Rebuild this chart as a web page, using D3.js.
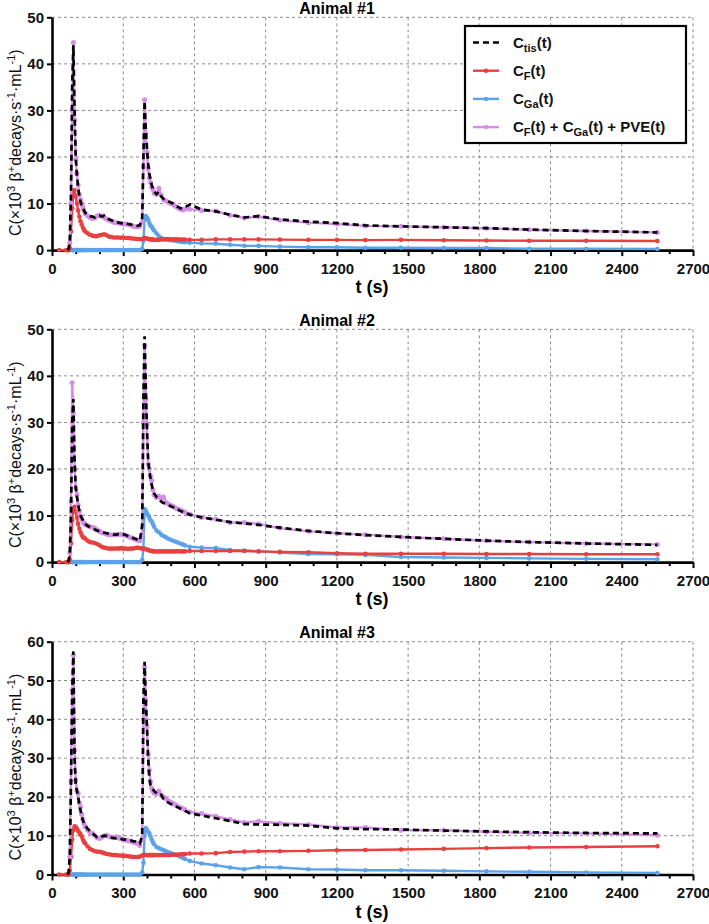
<!DOCTYPE html>
<html><head><meta charset="utf-8">
<script src="https://cdn.jsdelivr.net/npm/d3@7"></script>
<style>
body{margin:0;background:#fff}
svg{display:block}
text{font-family:"Liberation Sans",Arial,Helvetica,sans-serif}
</style>
</head><body>
<svg id="chart" width="709" height="924"></svg>
<script>
// ---------------- DATA ----------------
const times = [30,60,65,70,75,80,85,90,95,100,
  105,110,115,120,125,130,135,140,
  150,160,170,180,190,200,210,220,230,240,250,260,270,280,290,300,310,320,330,340,350,360,370,380,
  385,390,395,400,405,410,415,420,425,430,
  440,450,460,470,480,490,500,510,520,530,540,550,560,
  580,630,690,750,810,870,960,1080,1200,1320,1470,1650,1830,2010,2250,2550];

const titles = ["Animal #1","Animal #2","Animal #3"];
const yMaxes = [50,50,60];
const xTickLabels = [0,300,600,900,1200,1500,1800,2100,2400,2700];
const xMinorTicks = [100,200,400,500,700,800,1000,1100,1300,1400,1600,1700,1900,2000,2200,2300,2500,2600];

// Animal #1
const a1Tis = [null,null,0,0.3,2,12,35,44,30,20,
  16,13.5,11.5,10.5,9.5,9,8.5,8,
  7.6,7.3,7.2,7.0,7.3,7.4,7.2,7.4,7.0,6.6,6.4,6.2,6.0,5.9,5.8,5.7,5.8,5.6,5.5,5.4,5.3,5.2,5.3,7,
  20,32,26,22,18.5,16.5,15,14,13.2,12.6,
  12,12.5,11.5,11,10.8,10.5,10.2,10,9.6,9.3,9.0,8.9,9.2,
  9.8,8.7,8.3,7.6,7.0,7.3,6.6,6.1,5.8,5.3,5.1,4.9,4.7,4.4,4.1,3.8];
const a1Fit = [null,null,null,null,1.5,10,30,44.6,28,19.5,
  16.5,14,12,10.8,10,9.2,8.5,7.8,
  7.3,7.0,6.8,6.9,7.3,7.5,7.3,7.0,6.7,6.4,6.2,6.0,5.9,5.8,5.7,5.6,5.6,5.5,5.4,5.2,5.0,5.0,5.1,6,
  18,32.3,25,21,17.5,15.5,14.5,13.5,13.0,12.2,
  12.0,13.3,11.8,10.8,10.6,10.3,10.0,9.8,9.4,9.1,8.8,8.6,8.8,
  8.8,8.5,8.4,7.5,6.9,7.2,6.4,5.9,5.6,5.2,5.1,4.9,4.7,4.35,4.1,3.8];
const a1F = [0,0,0,0,0.4,4,9,12.5,12.9,11.5,
  10,8.5,7.2,6.2,5.5,4.8,4.3,4.0,
  3.6,3.3,3.1,3.0,3.0,3.2,3.3,3.4,3.2,2.9,2.8,2.7,2.7,2.7,2.65,2.7,2.6,2.6,2.55,2.5,2.45,2.4,2.4,2.4,
  2.5,2.6,2.6,2.5,2.4,2.35,2.3,2.3,2.25,2.2,
  2.2,2.2,2.3,2.3,2.35,2.35,2.3,2.3,2.3,2.3,2.25,2.25,2.25,
  2.2,2.2,2.3,2.3,2.3,2.3,2.25,2.2,2.2,2.15,2.2,2.1,2.05,2.0,2.0,1.95];
const a1Ga = [null,null,null,null,null,null,0,0,0,0,
  0,0,0,0,0,0,0,0,
  0,0,0,0,0,0,0,0,0,0,0,0,0,0,0,0,0,0,0,0,0,0,0,0.3,
  2,6.5,7.3,7.0,6.5,5.8,5.3,5.0,4.6,4.2,
  3.6,3.0,2.6,2.4,2.3,2.2,2.1,2.1,2.0,1.9,1.8,1.75,1.7,
  1.6,1.45,1.35,1.15,0.95,0.9,0.75,0.6,0.6,0.5,0.5,0.45,0.45,0.3,0.3,0.25];

// Animal #2
const a2Tis = [null,null,0,0.3,2,10,30,35,22,16,
  14,12.5,11,10,9.5,9,8.5,8.2,
  7.8,7.5,7.2,7.0,6.8,6.6,6.4,6.3,6.2,6.1,6.0,5.9,5.9,6.0,6.1,6.0,5.8,5.6,5.4,5.2,5.0,4.8,4.6,8,
  35,48.5,38,28,22,19.5,18,16.5,15.5,14.8,
  14.0,13.5,13.0,12.7,12.5,12.3,12.0,11.8,11.5,11.3,11.0,10.8,10.6,
  10.2,9.6,9.1,8.6,8.3,8.0,7.4,6.7,6.2,5.8,5.4,5.0,4.6,4.3,4.0,3.7];
const a2Fit = [null,null,null,null,2,13,38.5,32,20,15.9,
  14.5,12.3,11,10,9.3,8.8,8.4,8.0,
  7.8,7.6,7.5,7.3,6.9,6.6,6.3,6.2,6.0,5.9,5.8,5.9,5.9,6.0,6.0,5.9,5.7,5.5,5.3,5.1,4.9,4.7,4.6,6,
  30,46.6,35,29.5,21,20,18.5,17.5,15.5,14.4,
  13.8,14.2,13.7,14.0,12.8,12.5,12.2,12.0,11.6,11.4,11.2,10.9,10.7,
  10.3,9.6,9.2,8.5,8.5,8.2,7.3,6.6,6.2,5.9,5.4,5.0,4.6,4.3,4.0,3.8];
const a2F = [0,0,0,0,0.5,4,9,11.5,11.9,10.8,
  9.5,8.2,7.2,6.4,5.8,5.4,5.2,5.0,
  4.6,4.3,4.2,4.1,3.9,3.6,3.3,3.1,3.0,2.9,2.9,2.9,2.9,2.9,3.0,2.9,2.9,2.85,2.9,2.9,3.0,3.1,3.0,2.9,
  2.9,2.8,2.8,2.7,2.6,2.5,2.45,2.4,2.35,2.3,
  2.3,2.3,2.3,2.3,2.3,2.3,2.3,2.3,2.3,2.35,2.3,2.3,2.3,
  2.4,2.4,2.4,2.4,2.4,2.3,2.2,2.1,1.9,1.8,1.8,1.8,1.75,1.75,1.7,1.7];
const a2Ga = [null,null,null,null,null,null,0,0,0,0,
  0,0,0,0,0,0,0,0,
  0,0,0,0,0,0,0,0,0,0,0,0,0,0,0,0,0,0,0,0,0,0,0,0.5,
  3,11.4,11,10.5,10,9.5,9,8.7,8.2,7.6,
  6.8,6.4,5.9,5.6,5.3,5.0,4.8,4.6,4.4,4.2,4.0,3.8,3.6,
  3.3,3.1,3.0,2.6,2.5,2.3,2.06,1.75,1.7,1.55,1.1,1.0,0.9,0.8,0.7,0.6];

// Animal #3
const a3Tis = [null,null,0,0.5,5,24,47,57.5,30,23,
  21.5,20,18,16.5,15,14,13.2,12.6,
  11.8,11.2,10.6,10.1,9.6,9.5,9.8,10.0,9.9,9.6,9.5,9.4,9.3,9.4,9.2,9.0,9.0,8.9,8.8,8.6,8.5,8.3,8.0,10,
  45,54.8,45,38,30,25,23,22.5,22,21.5,
  21,20.5,20.5,19.5,19,18.5,18.2,18,17.6,17.3,17.0,16.7,16.4,
  15.8,15.2,14.5,13.8,13.0,12.9,12.8,12.6,11.9,11.7,11.6,11.3,11.1,10.9,10.7,10.6];
const a3Fit = [null,null,null,null,4.5,24,47.5,56.5,32,24.3,
  21.5,20.9,18.5,17.4,15.5,14.2,13.1,12.3,
  11.5,10.8,10.6,10.0,9.5,9.3,9.6,10.0,10.1,9.8,9.6,9.5,9.7,9.4,9.2,9.0,8.85,8.7,8.6,8.4,8.2,8.0,7.5,9,
  40,53.5,45,38.1,31,26.9,24,22.2,21.5,21.0,
  20.9,21.5,20.5,20.0,19.5,19.0,18.7,18.3,18.0,17.6,17.3,17.0,16.7,
  16.1,15.7,15.0,14.2,13.4,13.7,13.2,12.9,12.1,12.1,11.4,11.4,11.0,10.7,10.6,10.1];
const a3F = [0,0,0,0,1,4.5,9,11.5,12.4,12.2,
  11.8,11.2,10.8,10.4,9.8,9.0,8.4,8.0,
  7.2,6.6,6.3,6.0,5.9,5.85,5.7,5.5,5.3,5.2,5.1,5.0,5.0,4.9,4.9,4.8,4.8,4.7,4.6,4.55,4.5,4.5,4.6,4.9,
  5.0,5.1,5.0,5.0,5.0,5.0,5.0,5.0,5.0,5.0,
  5.0,5.0,5.0,5.0,5.0,5.0,5.05,5.1,5.1,5.15,5.2,5.2,5.25,
  5.4,5.4,5.5,5.8,5.9,6.0,6.0,6.1,6.25,6.3,6.45,6.6,6.8,6.95,7.1,7.3];
const a3Ga = [null,null,null,null,null,null,0,0,0,0,
  0,0,0,0,0,0,0,0,
  0,0,0,0,0,0,0,0,0,0,0,0,0,0,0,0,0,0,0,0,0,0,0,0.5,
  3,10,12.0,11.5,11,10.6,9.8,9.0,8.3,7.8,
  7.1,6.8,6.5,6.27,6.0,5.7,5.5,5.3,5.1,4.9,4.6,4.3,4.0,
  3.5,2.84,2.4,1.8,1.37,1.9,1.8,1.37,1.3,1.1,1.1,0.95,0.8,0.7,0.5,0.4];

const animals = [
  {tis:a1Tis, fit:a1Fit, F:a1F, Ga:a1Ga},
  {tis:a2Tis, fit:a2Fit, F:a2F, Ga:a2Ga},
  {tis:a3Tis, fit:a3Fit, F:a3F, Ga:a3Ga}
];

// ---------------- STYLE / LAYOUT ----------------
const COL = {F:"#e8403f", Ga:"#5ba2ea", fit:"#d68ce9", tis:"#000"};
const plotLeft = 52, plotRight = 693, plotH = 232.8;
const panelTops = [17.3, 329.3, 641.7];

const svg = d3.select("#chart");
const x = d3.scaleLinear().domain([0,2700]).range([plotLeft, plotRight]);

animals.forEach((an, i)=>{
  const top = panelTops[i];
  const bottom = top + plotH;
  const y = d3.scaleLinear().domain([0, yMaxes[i]]).range([bottom, top]);
  const yTicks = d3.range(0, yMaxes[i]+1, 10);
  const g = svg.append("g");

  // grid
  g.append("g").selectAll("line").data(xTickLabels.filter(d=>d>0)).join("line")
    .attr("x1", d=>x(d)).attr("x2", d=>x(d)).attr("y1", top).attr("y2", bottom)
    .attr("stroke","#8a8a8a").attr("stroke-width",1).attr("stroke-dasharray","3,3");
  g.append("g").selectAll("line").data(yTicks.filter(d=>d>0)).join("line")
    .attr("x1", plotLeft).attr("x2", plotRight).attr("y1", d=>y(d)).attr("y2", d=>y(d))
    .attr("stroke","#8a8a8a").attr("stroke-width",1).attr("stroke-dasharray","3,3");

  // axes
  const xa = g.append("g").attr("transform",`translate(0,${bottom})`)
    .call(d3.axisBottom(x).tickValues(xTickLabels).tickFormat(d3.format("d"))
      .tickSize(6).tickSizeOuter(0).tickPadding(7));
  g.append("g").attr("transform",`translate(0,${bottom})`)
    .call(d3.axisBottom(x).tickValues(xMinorTicks).tickSize(4).tickSizeOuter(0).tickFormat(""))
    .call(s=>s.select(".domain").remove())
    .selectAll("line").attr("stroke-width",2);
  const ya = g.append("g").attr("transform",`translate(${plotLeft},0)`)
    .call(d3.axisLeft(y).tickValues(yTicks).tickSize(5).tickSizeOuter(0).tickPadding(3));
  [xa, ya].forEach(a=>{
    a.select(".domain").attr("stroke-width",2.6);
    a.selectAll(".tick line").attr("stroke-width",2);
    a.selectAll(".tick text").attr("font-size",15).attr("font-weight","bold")
      .attr("font-family",'"Liberation Sans",Arial,sans-serif').attr("fill","#111");
  });

  const pts = arr => times.map((t,k)=>[t, arr[k]]);
  const line = d3.line().defined(d=>d[1]!=null).x(d=>x(d[0])).y(d=>y(d[1]));

  function drawSeries(arr, color, r){
    const data = pts(arr);
    g.append("path").datum(data).attr("d", line).attr("fill","none")
      .attr("stroke", color).attr("stroke-width", 2.4).attr("stroke-linejoin","round");
    g.append("g").selectAll("circle").data(data.filter(d=>d[1]!=null)).join("circle")
      .attr("cx", d=>x(d[0])).attr("cy", d=>y(d[1])).attr("r", r).attr("fill", color);
  }
  drawSeries(an.Ga, COL.Ga, 2.3);
  drawSeries(an.F, COL.F, 2.3);
  drawSeries(an.fit, COL.fit, 2.5);
  g.append("path").datum(pts(an.tis)).attr("d", line).attr("fill","none")
    .attr("stroke","#000").attr("stroke-width",2.7).attr("stroke-dasharray","6,4");

  // title
  g.append("text").attr("x", 337).attr("y", top-3.8).attr("text-anchor","middle")
    .attr("font-size",16).attr("font-weight","bold").text(titles[i]);
  // x label
  g.append("text").attr("x", 372).attr("y", bottom+43).attr("text-anchor","middle")
    .attr("font-size",18).attr("font-weight","bold").text("t (s)");
  // y label
  const yl = g.append("text").attr("transform",`translate(21,${(top+bottom)/2+9}) rotate(-90)`)
    .attr("text-anchor","middle").attr("font-size",16).attr("fill","#111");
  yl.append("tspan").text("C(×10");
  yl.append("tspan").text("3").attr("font-size",11).attr("dy",-6);
  yl.append("tspan").text(" β").attr("dy",6);
  yl.append("tspan").text("+").attr("font-size",11).attr("dy",-6);
  yl.append("tspan").text("decays·s").attr("dy",6);
  yl.append("tspan").text("-1").attr("font-size",11).attr("dy",-6);
  yl.append("tspan").text("·mL").attr("dy",6);
  yl.append("tspan").text("-1").attr("font-size",11).attr("dy",-6);
  yl.append("tspan").text(")").attr("dy",6);

  // legend (first panel only)
  if(i===0){
    const lg = g.append("g");
    lg.append("rect").attr("x",465).attr("y",26).attr("width",221).attr("height",117)
      .attr("fill","#fff").attr("stroke","#000").attr("stroke-width",2.2);
    const items = [
      {k:"tis", parts:[["C"],["tis",1],["(t)"]]},
      {k:"F", parts:[["C"],["F",1],["(t)"]]},
      {k:"Ga", parts:[["C"],["Ga",1],["(t)"]]},
      {k:"fit", parts:[["C"],["F",1],["(t) + C"],["Ga",1],["(t) + PVE(t)"]]}
    ];
    items.forEach((it,j)=>{
      const cy = 42.5 + j*28.2;
      if(it.k==="tis"){
        lg.append("line").attr("x1",473).attr("x2",499).attr("y1",cy).attr("y2",cy)
          .attr("stroke","#000").attr("stroke-width",2.6).attr("stroke-dasharray","6,4");
      } else {
        lg.append("line").attr("x1",473).attr("x2",499).attr("y1",cy).attr("y2",cy)
          .attr("stroke",COL[it.k]).attr("stroke-width",2.4);
        lg.append("circle").attr("cx",486).attr("cy",cy).attr("r",2.2).attr("fill",COL[it.k]);
      }
      const tx = lg.append("text").attr("x",513).attr("y",cy+5).attr("font-size",15)
        .attr("font-weight","bold").attr("fill","#111");
      let down = false;
      it.parts.forEach(p=>{
        const ts = tx.append("tspan").text(p[0]);
        if(p[1]){ ts.attr("font-size",11).attr("dy",4); down = true; }
        else if(down){ ts.attr("dy",-4); down = false; }
      });
    });
  }
});
</script>
</body></html>
